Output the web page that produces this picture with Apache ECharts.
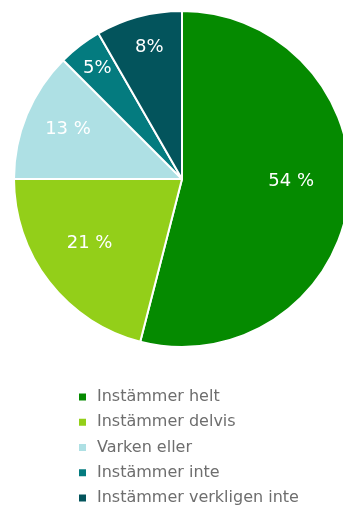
<!DOCTYPE html>
<html>
<head>
<meta charset="utf-8">
<script src="https://cdn.jsdelivr.net/npm/echarts@6/dist/echarts.min.js"></script>
<style>
html,body{margin:0;padding:0;background:#fff;}
#chart{width:343px;height:509px;}
</style>
</head>
<body>
<div id="chart"></div>
<script>
// Data
var categories = ['Instämmer helt', 'Instämmer delvis', 'Varken eller', 'Instämmer inte', 'Instämmer verkligen inte'];
var values = [54, 21, 12.5, 4.2, 8.3];
var labelTexts = ['54 %', '21 %', '13 %', '5%', '8%'];

// Style
var colors = ['#058a00', '#93cf19', '#aee0e4', '#047b7f', '#03545c'];
var labelRadiusFrac = [0.65, 0.67, 0.74, 0.83, 0.81];
var labelAngleShift = [-6, 3, 1, 0, 1];
var CX = 182, CY = 179, R = 168;

var total = values.reduce(function (a, b) { return a + b; }, 0);
function labelPos(i) {
  var before = 0;
  for (var k = 0; k < i; k++) before += values[k];
  var mid = (before + values[i] / 2) / total * 360 + labelAngleShift[i];
  var rad = mid * Math.PI / 180;
  var r = R * labelRadiusFrac[i];
  return { x: CX + r * Math.sin(rad), y: CY - r * Math.cos(rad) };
}

var chart = echarts.init(document.getElementById('chart'), null, { renderer: 'canvas' });
chart.setOption({
  animation: false,
  color: colors,
  legend: {
    orient: 'vertical',
    left: 79,
    top: 388,
    padding: 0,
    icon: 'rect',
    itemWidth: 7,
    itemHeight: 7,
    itemGap: 7.25,
    selectedMode: false,
    itemStyle: { borderWidth: 0 },
    data: categories,
    textStyle: {
      fontFamily: 'DejaVu Sans',
      fontSize: 16,
      color: '#6e6e6e',
      lineHeight: 18,
      padding: [0, 0, 0, 6]
    }
  },
  series: [{
    type: 'pie',
    center: [CX, CY],
    radius: [0, R],
    startAngle: 90,
    clockwise: true,
    avoidLabelOverlap: false,
    itemStyle: { borderColor: '#ffffff', borderWidth: 2 },
    label: {
      show: true,
      position: 'inside',
      color: '#ffffff',
      fontFamily: 'DejaVu Sans',
      fontSize: 18,
      formatter: function (p) { return labelTexts[p.dataIndex]; }
    },
    labelLine: { show: false },
    labelLayout: function (p) {
      var pos = labelPos(p.dataIndex);
      return { x: pos.x, y: pos.y, align: 'center', verticalAlign: 'middle' };
    },
    emphasis: { disabled: true },
    data: categories.map(function (c, i) { return { name: c, value: values[i] }; })
  }]
});
</script>
</body>
</html>
